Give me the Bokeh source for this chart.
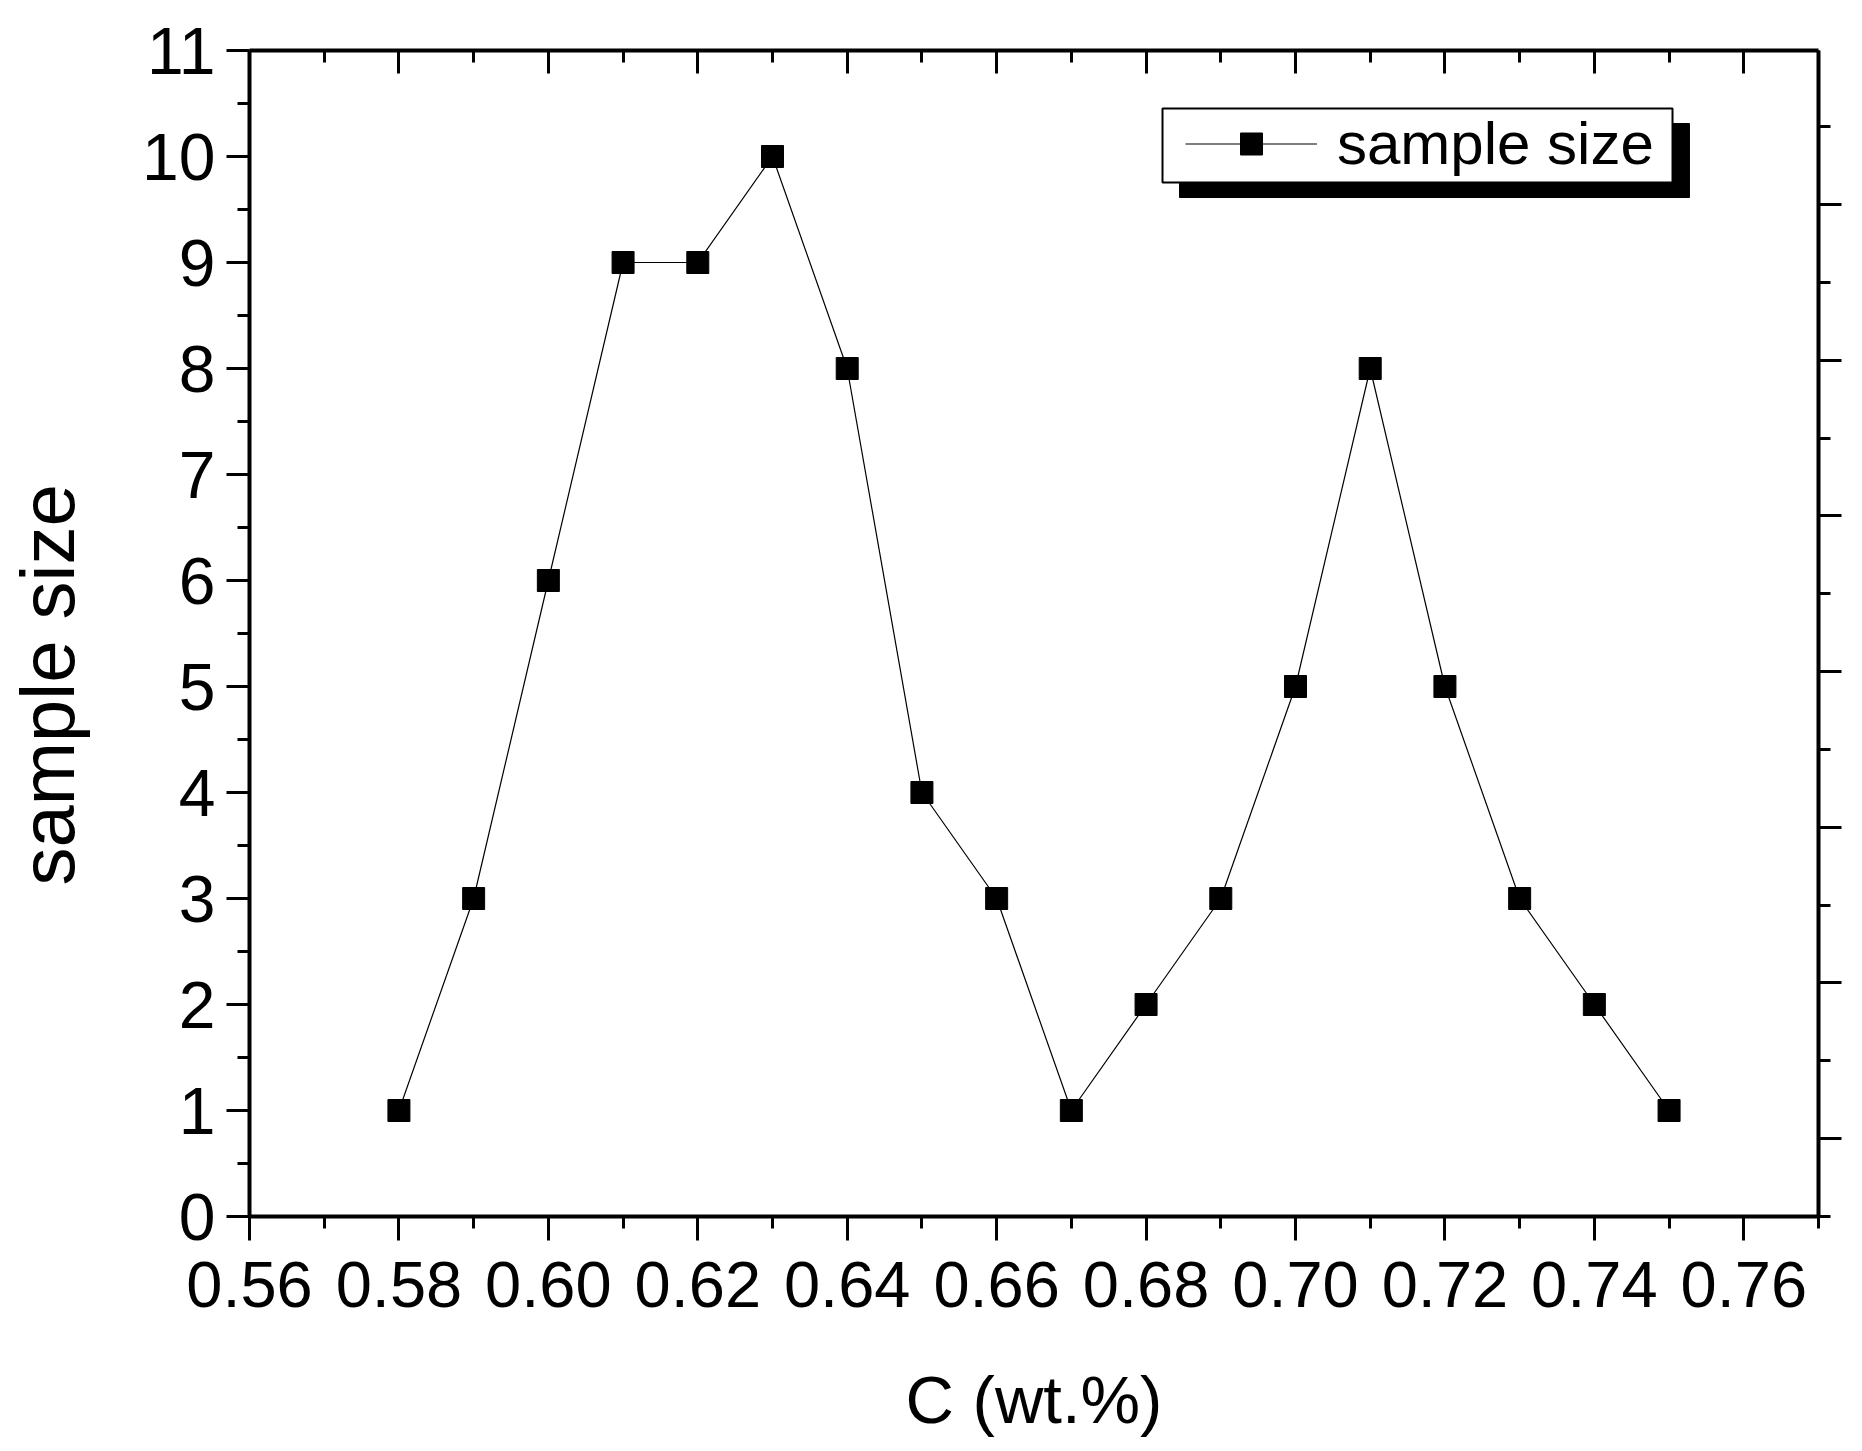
import numpy as np
from bokeh.plotting import figure
from bokeh.models import (Range1d, LinearAxis, FixedTicker, CustomJSTickFormatter,
                          NumeralTickFormatter, Legend, LegendItem, BoxAnnotation, Title)
from bokeh.embed import file_html
from bokeh.resources import INLINE

# ---- data ----
c_wt = [0.58, 0.59, 0.60, 0.61, 0.62, 0.63, 0.64, 0.65, 0.66,
        0.67, 0.68, 0.69, 0.70, 0.71, 0.72, 0.73, 0.74, 0.75]
sample_size = [1, 3, 6, 9, 9, 10, 8, 4, 3, 1, 2, 3, 5, 8, 5, 3, 2, 1]

x_major = [0.56, 0.58, 0.60, 0.62, 0.64, 0.66, 0.68, 0.70, 0.72, 0.74, 0.76]
x_minor = [0.57, 0.59, 0.61, 0.63, 0.65, 0.67, 0.69, 0.71, 0.73, 0.75, 0.77]
y_major = [0, 1, 2, 3, 4, 5, 6, 7, 8, 9, 10, 11]
y_minor = [0.5, 1.5, 2.5, 3.5, 4.5, 5.5, 6.5, 7.5, 8.5, 9.5, 10.5]
r_major = [0, 1, 2, 3, 4, 5, 6]
r_minor = [-0.5, 0.5, 1.5, 2.5, 3.5, 4.5, 5.5, 6.5]

FONT = "Liberation Sans"
AXW = 4
TKW = 3

p = figure(frame_width=1569, frame_height=1166,
           x_range=Range1d(0.56, 0.77), y_range=Range1d(0, 11),
           output_backend="svg", toolbar_location=None,
           min_border_left=249, min_border_top=50, min_border_right=36,
           min_border_bottom=10)
p.extra_y_ranges = {"right": Range1d(-0.5, 6.989)}
p.xgrid.visible = False
p.ygrid.visible = False
p.outline_line_color = None
p.background_fill_color = "white"
p.border_fill_color = "white"

empty = CustomJSTickFormatter(code="return ''")


def style(ax, tin, tout):
    ax.axis_line_width = AXW
    ax.axis_line_color = "black"
    ax.major_tick_line_width = TKW
    ax.minor_tick_line_width = TKW
    ax.major_tick_line_color = "black"
    ax.minor_tick_line_color = "black"
    ax.major_tick_in = tin[0]
    ax.minor_tick_in = tin[1]
    ax.major_tick_out = tout[0]
    ax.minor_tick_out = tout[1]
    ax.major_label_text_font = FONT
    ax.major_label_text_color = "black"


# bottom axis
xa = p.xaxis[0]
xa.ticker = FixedTicker(ticks=x_major, minor_ticks=x_minor)
xa.formatter = NumeralTickFormatter(format="0.00")
style(xa, (0, 0), (24, 12))
xa.major_label_text_font_size = "65px"
xa.major_label_standoff = 21
xa.axis_label = "C (wt.%)"
xa.axis_label_text_font = FONT
xa.axis_label_text_font_size = "67px"
xa.axis_label_text_font_style = "normal"
xa.axis_label_text_color = "black"
xa.axis_label_standoff = 52

# left axis
ya = p.yaxis[0]
ya.ticker = FixedTicker(ticks=y_major, minor_ticks=y_minor)
style(ya, (0, 0), (23, 12))
ya.major_label_text_font_size = "66px"
ya.major_label_standoff = 11

# invisible spacer axis between the tick labels and the y title
spacer = LinearAxis(ticker=FixedTicker(ticks=y_major), formatter=empty)
spacer.axis_line_color = None
spacer.major_tick_line_color = None
spacer.minor_tick_line_color = None
spacer.major_tick_out = 50
spacer.minor_tick_out = 0
spacer.major_tick_in = 0
spacer.minor_tick_in = 0
spacer.major_label_text_font_size = "1px"
spacer.major_label_standoff = 0
p.add_layout(spacer, "left")

# y axis title (placed as a side title so it can sit below the centre)
ytitle = Title(text="sample size", align="left", offset=331, standoff=0,
               text_font=FONT, text_font_size="76px", text_font_style="normal",
               text_color="black")
p.add_layout(ytitle, "left")

# top axis (inward ticks, no labels)
ta = LinearAxis(ticker=FixedTicker(ticks=x_major, minor_ticks=x_minor), formatter=empty)
style(ta, (23, 12), (0, 0))
ta.major_label_text_font_size = "1px"
p.add_layout(ta, "above")

# right axis (independent tick spacing, no labels)
ra = LinearAxis(y_range_name="right", ticker=FixedTicker(ticks=r_major, minor_ticks=r_minor),
                formatter=empty)
style(ra, (0, 0), (23, 12))
ra.major_label_text_font_size = "1px"
p.add_layout(ra, "right")

# data
r_line = p.line(c_wt, sample_size, line_color="black", line_width=1.2)
r_sq = p.scatter(c_wt, sample_size, marker="square", size=22,
                 fill_color="black", line_color="black")

# legend box with shadow
shadow = BoxAnnotation(left=0.68448, right=0.75273, top=10.311, bottom=9.613,
                       fill_color="black", fill_alpha=1.0, line_color="black",
                       line_alpha=1.0, line_width=1)
box = BoxAnnotation(left=0.68220, right=0.75046, top=10.453, bottom=9.755,
                    fill_color="white", fill_alpha=1.0, line_color="black",
                    line_alpha=1.0, line_width=2)
p.add_layout(shadow)
p.add_layout(box)

legend = Legend(items=[LegendItem(label="sample size", renderers=[r_line, r_sq])],
                location=(936, 1038), padding=0, margin=0, spacing=0,
                glyph_width=132, glyph_height=55, label_standoff=20,
                label_text_font=FONT, label_text_font_size="60px",
                label_text_color="black",
                border_line_color=None, background_fill_alpha=0.0)
p.add_layout(legend)

open("out.html", "w").write(file_html(p, INLINE))
